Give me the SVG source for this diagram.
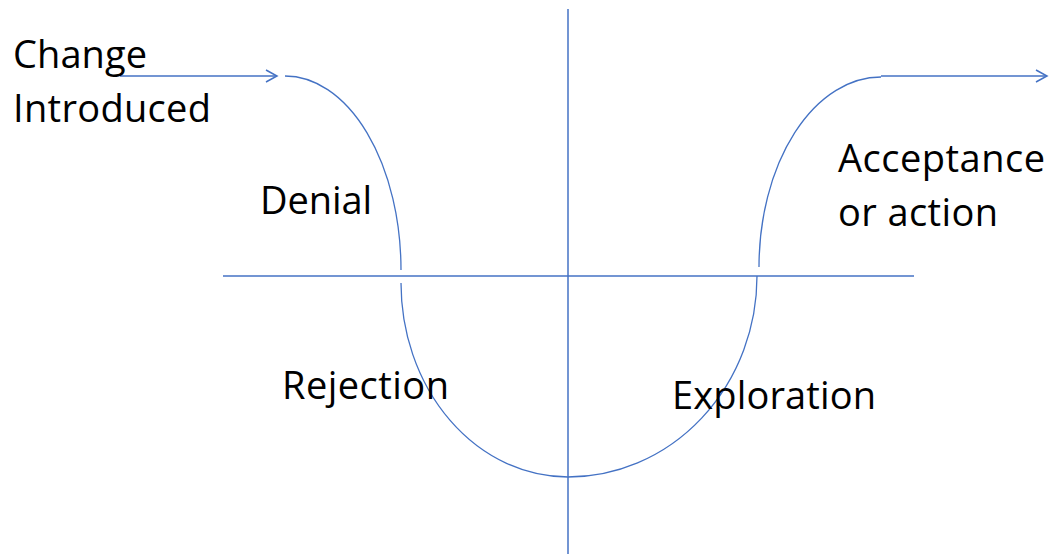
<svg xmlns="http://www.w3.org/2000/svg" width="1051" height="554" viewBox="0 0 1051 554">
<style>
.ln{fill:none;stroke:#4472C4;stroke-width:1.5}
.cv{fill:none;stroke:#4472C4;stroke-width:1.3}
.t{font-family:"Open Sans","Liberation Sans",sans-serif;font-size:38px;fill:#000}
</style>
<defs>
<marker id="arr" markerWidth="16" markerHeight="16" refX="12" refY="8" orient="auto" markerUnits="userSpaceOnUse">
<path d="M1,2 L12,8 L1,14" fill="none" stroke="#4472C4" stroke-width="1.5"/>
</marker>
</defs>
<rect width="1051" height="554" fill="#fff"/>
<g id="connectors">
<line class="ln" x1="568" y1="9" x2="568" y2="554"/>
<line class="ln" x1="223" y1="276" x2="914" y2="276"/>
<line class="ln" x1="120" y1="76" x2="277" y2="76" marker-end="url(#arr)"/>
<path class="cv" d="M285,76 A116,194 0 0 1 401,270"/>
<path class="cv" d="M401,283 A167,194 0 0 0 568,477 A189,201 0 0 0 757,276"/>
<path class="cv" d="M759,267 A122,190 0 0 1 881,77"/>
<line class="ln" x1="881" y1="76" x2="1047" y2="76" marker-end="url(#arr)"/>
</g>
<g id="change"><text class="t" x="13" y="68" textLength="134">Change</text><text class="t" x="13" y="122" textLength="198">Introduced</text></g>
<g id="denial"><text class="t" x="260" y="214" textLength="112">Denial</text></g>
<g id="acceptance"><text class="t" x="838" y="172" textLength="207">Acceptance</text><text class="t" x="838" y="226" textLength="160">or action</text></g>
<g id="rejection"><text class="t" x="282" y="399" textLength="167">Rejection</text></g>
<g id="exploration"><text class="t" x="672" y="409" textLength="204">Exploration</text></g>
</svg>
